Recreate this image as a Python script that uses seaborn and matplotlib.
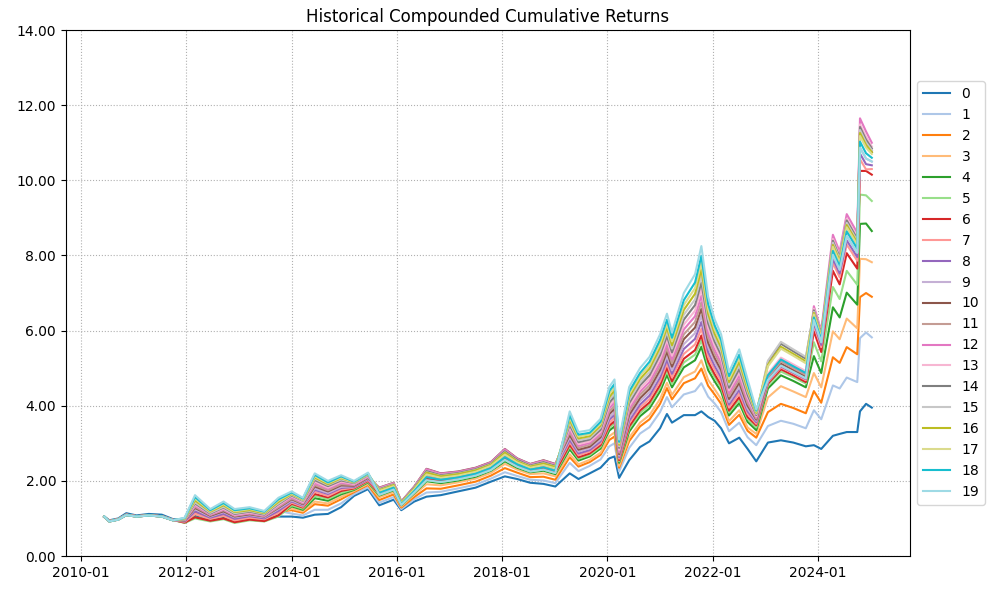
import pandas as pd
import matplotlib
matplotlib.use("Agg")
import matplotlib.pyplot as plt
import matplotlib.dates as mdates
from matplotlib.ticker import FormatStrFormatter
import seaborn as sns

dates = ["2010-06-10", "2010-07-15", "2010-09-15", "2010-11-10", "2011-01-20", "2011-04-15",
         "2011-07-15", "2011-10-01", "2011-12-20", "2012-03-01", "2012-06-15", "2012-09-15",
         "2012-12-01", "2013-03-15", "2013-06-25", "2013-10-01", "2014-01-01", "2014-03-20",
         "2014-06-10", "2014-09-10", "2014-12-10", "2015-03-10", "2015-06-15", "2015-09-01",
         "2015-12-10", "2016-02-01", "2016-05-01", "2016-07-25", "2016-11-01", "2017-03-01",
         "2017-07-01", "2017-10-15", "2018-01-20", "2018-04-15", "2018-07-15", "2018-10-15",
         "2019-01-05", "2019-04-15", "2019-06-15", "2019-09-01", "2019-11-15", "2020-01-15",
         "2020-02-20", "2020-03-23", "2020-06-01", "2020-08-15", "2020-10-20", "2021-01-01",
         "2021-02-18", "2021-03-25", "2021-06-15", "2021-09-01", "2021-10-15", "2021-12-01",
         "2022-01-15", "2022-03-01", "2022-04-25", "2022-07-05", "2022-09-01", "2022-10-31",
         "2023-01-20", "2023-04-20", "2023-07-15", "2023-10-10", "2023-12-05", "2024-01-25",
         "2024-04-15", "2024-06-01", "2024-07-20", "2024-10-01", "2024-10-20", "2024-12-01",
         "2025-01-10"]

s0 = [1.05, 0.95, 1.00, 1.14, 1.08, 1.12, 1.10, 0.98,
      0.96, 1.08, 1.00, 1.03, 1.00, 1.05, 0.98, 1.05,
      1.05, 1.02, 1.10, 1.12, 1.30, 1.60, 1.78,
      1.35, 1.50, 1.22, 1.45, 1.58, 1.62, 1.72, 1.82, 1.98, 2.12, 2.05, 1.95, 1.92, 1.85,
      2.20, 2.05, 2.20, 2.35, 2.60, 2.65, 2.08, 2.55, 2.90, 3.05, 3.40, 3.78, 3.55, 3.75, 3.75, 3.85,
      3.70, 3.60, 3.40, 3.00, 3.15, 2.85, 2.52,
      3.02, 3.08, 3.02, 2.92, 2.95, 2.85, 3.20, 3.25, 3.30, 3.30, 3.85, 4.05, 3.95]
s1 = [1.04, 0.93, 0.98, 1.10, 1.06, 1.08, 1.06, 0.96,
      0.92, 1.19, 1.02, 1.12, 0.99, 1.06, 1.00, 1.20,
      1.13, 1.08, 1.23, 1.23, 1.40, 1.65, 1.83,
      1.42, 1.57, 1.25, 1.51, 1.69, 1.71, 1.80, 1.90, 2.06, 2.23, 2.13, 2.03, 2.01, 1.94,
      2.48, 2.26, 2.40, 2.57, 2.92, 3.00, 2.25, 2.88, 3.26, 3.43, 3.83, 4.23, 3.96, 4.30, 4.39, 4.60,
      4.24, 4.06, 3.83, 3.32, 3.55, 3.16, 2.95,
      3.46, 3.60, 3.52, 3.40, 3.88, 3.64, 4.54, 4.46, 4.75, 4.63, 5.80, 5.95, 5.82]
s2 = [1.04, 0.93, 0.98, 1.10, 1.06, 1.08, 1.06, 0.96,
      0.915, 1.16, 1.00, 1.10, 0.97, 1.04, 0.99, 1.18,
      1.22, 1.15, 1.38, 1.34, 1.51, 1.70, 1.89,
      1.49, 1.64, 1.29, 1.57, 1.80, 1.79, 1.88, 1.98, 2.14, 2.34, 2.22, 2.10, 2.11, 2.03,
      2.63, 2.38, 2.50, 2.69, 3.09, 3.18, 2.35, 3.06, 3.45, 3.64, 4.05, 4.47, 4.17, 4.60, 4.73, 4.99,
      4.53, 4.30, 4.05, 3.49, 3.76, 3.33, 3.15,
      3.83, 4.05, 3.94, 3.80, 4.39, 4.08, 5.29, 5.14, 5.56, 5.37, 6.89, 7.00, 6.90]
s3 = [1.04, 0.93, 0.98, 1.10, 1.06, 1.08, 1.06, 0.96,
      0.91, 1.12, 0.99, 1.07, 0.95, 1.02, 0.98, 1.15,
      1.26, 1.19, 1.45, 1.40, 1.57, 1.73, 1.92,
      1.56, 1.70, 1.32, 1.63, 1.91, 1.88, 1.96, 2.06, 2.21, 2.45, 2.30, 2.18, 2.20, 2.12,
      2.71, 2.44, 2.56, 2.75, 3.19, 3.29, 2.40, 3.15, 3.55, 3.75, 4.18, 4.61, 4.29, 4.76, 4.91, 5.21,
      4.69, 4.44, 4.18, 3.59, 3.88, 3.42, 3.25,
      4.22, 4.52, 4.38, 4.23, 4.87, 4.49, 5.98, 5.77, 6.32, 6.06, 7.91, 7.90, 7.82]
s4 = [1.04, 0.93, 0.98, 1.10, 1.06, 1.08, 1.06, 0.96,
      0.89, 1.03, 0.94, 1.00, 0.90, 0.97, 0.93, 1.08,
      1.32, 1.23, 1.54, 1.47, 1.64, 1.76, 1.96,
      1.61, 1.75, 1.35, 1.67, 1.99, 1.94, 2.01, 2.11, 2.27, 2.52, 2.35, 2.23, 2.27, 2.18,
      2.84, 2.54, 2.65, 2.86, 3.34, 3.45, 2.48, 3.31, 3.72, 3.93, 4.38, 4.82, 4.49, 5.02, 5.21, 5.57,
      4.95, 4.65, 4.38, 3.74, 4.07, 3.57, 3.35,
      4.46, 4.81, 4.66, 4.49, 5.32, 4.87, 6.62, 6.35, 7.01, 6.69, 8.84, 8.85, 8.65]
s5 = [1.04, 0.93, 0.98, 1.10, 1.06, 1.08, 1.06, 0.96,
      0.88, 1.00, 0.92, 0.98, 0.88, 0.95, 0.92, 1.05,
      1.35, 1.26, 1.60, 1.52, 1.68, 1.78, 1.98,
      1.63, 1.77, 1.36, 1.69, 2.02, 1.97, 2.04, 2.14, 2.29, 2.56, 2.38, 2.25, 2.30, 2.21,
      2.91, 2.59, 2.69, 2.91, 3.42, 3.53, 2.52, 3.39, 3.80, 4.02, 4.48, 4.93, 4.58, 5.15, 5.36, 5.74,
      5.08, 4.76, 4.48, 3.82, 4.16, 3.65, 3.42,
      4.55, 4.91, 4.76, 4.59, 5.69, 5.18, 7.16, 6.84, 7.59, 7.22, 9.62, 9.60, 9.45]
s6 = [1.04, 0.93, 0.98, 1.10, 1.06, 1.08, 1.06, 0.96,
      0.89, 1.03, 0.94, 1.00, 0.90, 0.97, 0.93, 1.08,
      1.39, 1.29, 1.65, 1.56, 1.73, 1.80, 2.00,
      1.66, 1.79, 1.37, 1.71, 2.06, 2.00, 2.06, 2.16, 2.32, 2.59, 2.41, 2.28, 2.33, 2.24,
      2.96, 2.63, 2.73, 2.95, 3.47, 3.59, 2.55, 3.45, 3.87, 4.09, 4.55, 5.01, 4.65, 5.25, 5.48, 5.87,
      5.17, 4.84, 4.55, 3.87, 4.23, 3.70, 3.48,
      4.59, 4.97, 4.81, 4.63, 5.98, 5.43, 7.59, 7.23, 8.06, 7.65, 10.25, 10.25, 10.15]
s7 = [1.04, 0.93, 0.98, 1.10, 1.06, 1.08, 1.06, 0.96,
      0.91, 1.12, 0.99, 1.07, 0.95, 1.02, 0.98, 1.15,
      1.42, 1.31, 1.71, 1.60, 1.77, 1.82, 2.02,
      1.70, 1.84, 1.39, 1.75, 2.14, 2.06, 2.12, 2.22, 2.37, 2.67, 2.46, 2.33, 2.39, 2.30,
      3.03, 2.68, 2.78, 3.00, 3.55, 3.68, 2.59, 3.53, 3.95, 4.18, 4.65, 5.12, 4.75, 5.38, 5.63, 6.05,
      5.30, 4.95, 4.65, 3.95, 4.33, 3.78, 3.52,
      4.63, 5.02, 4.86, 4.68, 6.13, 5.56, 7.80, 7.42, 8.29, 7.86, 10.56, 10.29, 10.30]
s8 = [1.04, 0.93, 0.98, 1.10, 1.06, 1.08, 1.06, 0.96,
      0.92, 1.19, 1.02, 1.12, 0.99, 1.06, 1.00, 1.20,
      1.45, 1.34, 1.76, 1.65, 1.81, 1.84, 2.04,
      1.73, 1.86, 1.40, 1.77, 2.17, 2.08, 2.14, 2.24, 2.40, 2.70, 2.49, 2.35, 2.42, 2.33,
      3.09, 2.73, 2.82, 3.05, 3.63, 3.76, 2.63, 3.60, 4.03, 4.27, 4.75, 5.22, 4.85, 5.51, 5.78, 6.23,
      5.43, 5.06, 4.75, 4.03, 4.42, 3.85, 3.56,
      4.66, 5.05, 4.88, 4.71, 6.21, 5.62, 7.91, 7.52, 8.40, 7.96, 10.71, 10.43, 10.40]
s9 = [1.04, 0.93, 0.98, 1.10, 1.06, 1.08, 1.06, 0.96,
      0.94, 1.25, 1.05, 1.17, 1.03, 1.09, 1.03, 1.25,
      1.48, 1.36, 1.80, 1.68, 1.84, 1.86, 2.06,
      1.75, 1.88, 1.42, 1.79, 2.21, 2.11, 2.17, 2.27, 2.42, 2.74, 2.52, 2.38, 2.46, 2.36,
      3.16, 2.78, 2.87, 3.10, 3.70, 3.84, 2.67, 3.68, 4.12, 4.36, 4.85, 5.33, 4.94, 5.64, 5.93, 6.40,
      5.56, 5.17, 4.85, 4.10, 4.51, 3.92, 3.60,
      4.68, 5.07, 4.90, 4.73, 6.28, 5.69, 8.02, 7.62, 8.52, 8.07, 10.87, 10.58, 10.50]
s10 = [1.05, 0.92, 0.97, 1.09, 1.05, 1.08, 1.05, 0.95,
       0.94, 1.28, 1.07, 1.19, 1.05, 1.11, 1.05, 1.28,
       1.51, 1.38, 1.85, 1.72, 1.88, 1.87, 2.08,
       1.82, 1.95, 1.45, 1.85, 2.32, 2.20, 2.25, 2.35, 2.50, 2.85, 2.60, 2.45, 2.55, 2.45,
       3.22, 2.83, 2.91, 3.16, 3.78, 3.92, 2.71, 3.76, 4.20, 4.45, 4.95, 5.44, 5.04, 5.77, 6.08, 6.58,
       5.68, 5.27, 4.95, 4.18, 4.61, 4.00, 3.63,
       4.72, 5.12, 4.95, 4.78, 6.47, 5.84, 8.28, 7.86, 8.81, 8.34, 11.26, 10.94, 10.75]
s11 = [1.05, 0.92, 0.97, 1.09, 1.05, 1.08, 1.05, 0.95,
       0.95, 1.31, 1.09, 1.22, 1.07, 1.13, 1.06, 1.30,
       1.53, 1.40, 1.89, 1.75, 1.91, 1.89, 2.10,
       1.81, 1.94, 1.44, 1.84, 2.30, 2.18, 2.23, 2.33, 2.48, 2.83, 2.58, 2.44, 2.53, 2.43,
       3.29, 2.88, 2.96, 3.21, 3.85, 4.00, 2.75, 3.84, 4.29, 4.54, 5.05, 5.54, 5.13, 5.90, 6.23, 6.75,
       5.81, 5.38, 5.05, 4.25, 4.70, 4.07, 3.66,
       4.76, 5.18, 5.00, 4.82, 6.50, 5.87, 8.34, 7.91, 8.87, 8.39, 11.34, 11.01, 10.80]
s12 = [1.05, 0.92, 0.97, 1.09, 1.05, 1.08, 1.05, 0.95,
       0.96, 1.34, 1.10, 1.24, 1.08, 1.14, 1.07, 1.33,
       1.56, 1.42, 1.94, 1.79, 1.95, 1.90, 2.11,
       1.81, 1.94, 1.45, 1.84, 2.31, 2.19, 2.24, 2.34, 2.49, 2.84, 2.59, 2.44, 2.54, 2.44,
       3.36, 2.93, 3.01, 3.26, 3.93, 4.09, 2.79, 3.92, 4.37, 4.63, 5.15, 5.65, 5.23, 6.03, 6.38, 6.93,
       5.94, 5.49, 5.15, 4.33, 4.80, 4.15, 3.69,
       4.81, 5.23, 5.05, 4.87, 6.65, 6.00, 8.55, 8.10, 9.10, 8.60, 11.65, 11.30, 11.00]
s13 = [1.05, 0.92, 0.97, 1.09, 1.05, 1.08, 1.05, 0.95,
       0.96, 1.37, 1.12, 1.26, 1.10, 1.16, 1.09, 1.35,
       1.59, 1.44, 1.98, 1.82, 1.98, 1.92, 2.13,
       1.79, 1.92, 1.43, 1.82, 2.27, 2.16, 2.21, 2.31, 2.46, 2.80, 2.56, 2.42, 2.51, 2.41,
       3.42, 2.98, 3.05, 3.31, 4.01, 4.17, 2.83, 3.99, 4.45, 4.72, 5.25, 5.76, 5.33, 6.16, 6.53, 7.11,
       6.07, 5.60, 5.25, 4.41, 4.89, 4.22, 3.72,
       4.85, 5.28, 5.10, 4.92, 6.58, 5.94, 8.44, 8.00, 8.98, 8.49, 11.49, 11.16, 10.90]
s14 = [1.05, 0.92, 0.97, 1.09, 1.05, 1.08, 1.05, 0.95,
       0.97, 1.40, 1.13, 1.29, 1.12, 1.18, 1.10, 1.38,
       1.61, 1.47, 2.02, 1.86, 2.01, 1.94, 2.15,
       1.78, 1.91, 1.43, 1.82, 2.26, 2.15, 2.21, 2.31, 2.46, 2.79, 2.56, 2.41, 2.50, 2.40,
       3.49, 3.03, 3.10, 3.36, 4.08, 4.25, 2.88, 4.07, 4.54, 4.81, 5.35, 5.86, 5.42, 6.29, 6.68, 7.28,
       6.20, 5.71, 5.35, 4.48, 4.98, 4.29, 3.75,
       5.16, 5.65, 5.45, 5.25, 6.54, 5.91, 8.39, 7.95, 8.93, 8.44, 11.42, 11.08, 10.85]
s15 = [1.05, 0.92, 0.97, 1.09, 1.05, 1.08, 1.05, 0.95,
       0.98, 1.43, 1.15, 1.31, 1.14, 1.20, 1.12, 1.40,
       1.63, 1.48, 2.06, 1.89, 2.04, 1.95, 2.16,
       1.76, 1.90, 1.42, 1.80, 2.23, 2.13, 2.19, 2.29, 2.44, 2.76, 2.53, 2.39, 2.47, 2.38,
       3.55, 3.08, 3.14, 3.42, 4.16, 4.33, 2.92, 4.15, 4.62, 4.90, 5.45, 5.97, 5.52, 6.42, 6.83, 7.46,
       6.32, 5.81, 5.45, 4.56, 5.08, 4.37, 3.78,
       5.20, 5.70, 5.50, 5.30, 6.50, 5.87, 8.34, 7.91, 8.87, 8.39, 11.34, 11.01, 10.80]
s16 = [1.05, 0.92, 0.97, 1.09, 1.05, 1.08, 1.05, 0.95,
       0.99, 1.48, 1.18, 1.35, 1.17, 1.22, 1.14, 1.44,
       1.65, 1.50, 2.09, 1.91, 2.07, 1.96, 2.18,
       1.75, 1.89, 1.42, 1.79, 2.22, 2.12, 2.18, 2.28, 2.43, 2.75, 2.52, 2.38, 2.46, 2.37,
       3.62, 3.13, 3.19, 3.47, 4.23, 4.41, 2.96, 4.23, 4.71, 4.99, 5.55, 6.08, 5.61, 6.55, 6.98, 7.63,
       6.45, 5.92, 5.55, 4.63, 5.17, 4.44, 3.81,
       5.09, 5.57, 5.38, 5.18, 6.47, 5.84, 8.28, 7.86, 8.81, 8.34, 11.26, 10.94, 10.75]
s17 = [1.05, 0.92, 0.97, 1.09, 1.05, 1.08, 1.05, 0.95,
       1.00, 1.53, 1.20, 1.38, 1.19, 1.25, 1.16, 1.48,
       1.67, 1.51, 2.12, 1.94, 2.09, 1.97, 2.19,
       1.73, 1.86, 1.40, 1.77, 2.17, 2.08, 2.14, 2.24, 2.40, 2.70, 2.49, 2.35, 2.42, 2.33,
       3.69, 3.18, 3.24, 3.52, 4.31, 4.50, 3.00, 4.31, 4.79, 5.08, 5.65, 6.18, 5.71, 6.68, 7.13, 7.81,
       6.58, 6.03, 5.65, 4.71, 5.27, 4.52, 3.84,
       5.05, 5.52, 5.33, 5.13, 6.43, 5.81, 8.23, 7.81, 8.75, 8.28, 11.18, 10.87, 10.70]
s18 = [1.05, 0.92, 0.97, 1.09, 1.05, 1.08, 1.05, 0.95,
       1.01, 1.57, 1.22, 1.41, 1.22, 1.27, 1.18, 1.51,
       1.69, 1.53, 2.16, 1.96, 2.12, 1.98, 2.20,
       1.68, 1.82, 1.38, 1.73, 2.10, 2.03, 2.09, 2.19, 2.34, 2.63, 2.44, 2.30, 2.36, 2.27,
       3.75, 3.23, 3.28, 3.57, 4.39, 4.58, 3.04, 4.38, 4.87, 5.17, 5.75, 6.29, 5.81, 6.81, 7.28, 7.99,
       6.71, 6.14, 5.75, 4.79, 5.36, 4.59, 3.87,
       4.81, 5.23, 5.05, 4.87, 6.35, 5.75, 8.12, 7.71, 8.64, 8.18, 11.03, 10.72, 10.60]
s19 = [1.05, 0.92, 0.97, 1.09, 1.05, 1.08, 1.05, 0.95,
       1.02, 1.62, 1.25, 1.45, 1.25, 1.30, 1.20, 1.55,
       1.72, 1.55, 2.20, 2.00, 2.15, 2.00, 2.22,
       1.63, 1.77, 1.36, 1.69, 2.02, 1.97, 2.04, 2.14, 2.29, 2.56, 2.38, 2.25, 2.30, 2.21,
       3.85, 3.30, 3.35, 3.65, 4.50, 4.70, 3.10, 4.50, 5.00, 5.30, 5.90, 6.45, 5.95, 7.00, 7.50, 8.25,
       6.90, 6.30, 5.90, 4.90, 5.50, 4.70, 3.90,
       4.68, 5.07, 4.90, 4.73, 6.28, 5.69, 8.02, 7.62, 8.52, 8.07, 10.87, 10.58, 10.50]

series_values = [s0, s1, s2, s3, s4, s5, s6, s7, s8, s9,
                 s10, s11, s12, s13, s14, s15, s16, s17, s18, s19]
series_names = [str(i) for i in range(20)]

frames = []
for name, vals in zip(series_names, series_values):
    if len(vals) != len(dates):
        raise ValueError(f"series {name} has {len(vals)} values, expected {len(dates)}")
    frames.append(pd.DataFrame({"date": pd.to_datetime(dates), "value": vals, "series": name}))
df = pd.concat(frames, ignore_index=True)

fig = plt.figure(figsize=(9.98, 5.89), dpi=100)
ax = fig.add_axes([0.066, 0.056, 0.846, 0.893])
sns.lineplot(data=df, x="date", y="value", hue="series", hue_order=series_names,
             palette="tab20", linewidth=1.5, estimator=None, ax=ax)
ax.set_ylim(0, 14)
ax.yaxis.set_major_formatter(FormatStrFormatter('%.2f'))
ax.xaxis.set_major_locator(mdates.YearLocator(2))
ax.xaxis.set_major_formatter(mdates.DateFormatter('%Y-%m'))
ax.grid(True, linestyle=':', color='#b0b0b0', linewidth=0.8)
ax.set_xlabel('')
ax.set_ylabel('')
ax.set_title('Historical Compounded Cumulative Returns')
ax.legend(loc='center left', bbox_to_anchor=(1.0, 0.5))
fig.savefig('out.png', dpi=100)
